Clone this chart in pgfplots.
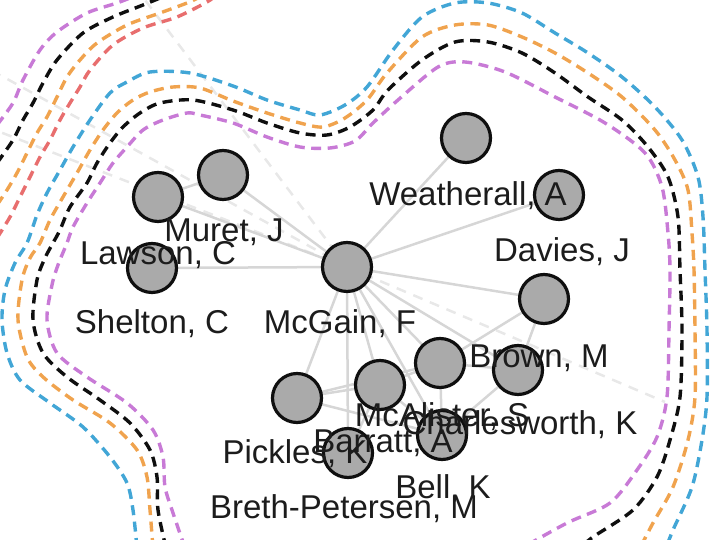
\documentclass[border=0pt]{standalone}
\usepackage{fontspec}
\setmainfont{Liberation Sans}
\usepackage{pgfplots}
\usepackage{pgfplotstable}
\pgfplotsset{compat=1.18}
\definecolor{cpur}{RGB}{200,122,214}
\definecolor{cblk}{RGB}{15,15,15}
\definecolor{cora}{RGB}{240,163,78}
\definecolor{cblu}{RGB}{66,166,214}
\definecolor{cred}{RGB}{232,110,110}
\definecolor{edgeg}{RGB}{214,214,214}
\definecolor{edged}{RGB}{232,232,232}
\definecolor{nodeg}{RGB}{170,170,170}
\definecolor{txt}{RGB}{28,28,28}
\pgfplotstableread{
x y
466 138
559 195
544 299
158 197
223 175
152 268
347 267
440 363
518 370
380 385
297 398
442 435
348 453
}\nodestab
\tikzset{ct/.style={smooth, line width=3.4pt, dash pattern=on 10pt off 6.5pt},
 ed/.style={draw=edgeg, line width=2.5pt},
 edd/.style={draw=edged, line width=2.5pt, dash pattern=on 10pt off 8pt},
 lab/.style={anchor=base, inner sep=0pt, text=txt, font=\fontsize{33}{38}\selectfont}}
\begin{document}
\begin{tikzpicture}
\begin{axis}[width=715pt,height=540pt,scale only axis,xmin=0,xmax=715,ymin=0,ymax=540,
  y dir=reverse,hide axis,clip=true,set layers]
% dashed faint edges
\addplot[edd] coordinates {(347,267) (145,0)};
\addplot[edd] coordinates {(347,267) (665,402)};
\addplot[edd] coordinates {(347,267) (0,75)};
\addplot[edd] coordinates {(347,267) (0,132)};
% solid edges
\addplot[ed] coordinates {(347,267) (466,138)};
\addplot[ed] coordinates {(347,267) (559,195)};
\addplot[ed] coordinates {(347,267) (544,299)};
\addplot[ed] coordinates {(347,267) (152,268)};
\addplot[ed] coordinates {(347,267) (223,175)};
\addplot[ed] coordinates {(347,267) (158,197)};
\addplot[ed] coordinates {(158,197) (223,175)};
\addplot[ed] coordinates {(347,267) (297,398)};
\addplot[ed] coordinates {(347,267) (348,453)};
\addplot[ed] coordinates {(347,267) (380,385)};
\addplot[ed] coordinates {(347,267) (440,363)};
\addplot[ed] coordinates {(347,267) (442,435)};
\addplot[ed] coordinates {(347,267) (518,370)};
\addplot[ed] coordinates {(297,398) (380,385)};
\addplot[ed] coordinates {(297,398) (440,363)};
\addplot[ed] coordinates {(297,398) (442,435)};
\addplot[ed] coordinates {(380,385) (440,363)};
\addplot[ed] coordinates {(440,363) (518,370)};
\addplot[ed] coordinates {(440,363) (544,299)};
\addplot[ed] coordinates {(518,370) (544,299)};
\addplot[ed] coordinates {(380,385) (442,435)};
\addplot[ed] coordinates {(442,435) (518,370)};
\addplot[ed] coordinates {(442,435) (440,363)};
\addplot[ed] coordinates {(348,453) (380,385)};
% main contours
\addplot[ct, draw=cpur] coordinates {(185,548) (173,513) (165,487) (163,457) (153,430) (127,403) (87,377) (57,353) (47,320) (52,285) (58,265) (67,243) (73,227) (87,203) (100,183) (113,163) (127,147) (143,130) (163,120) (187,113) (200,115) (233,123) (267,137) (300,147) (330,148) (355,141) (373,123) (398,100) (438,67) (465,62) (505,72) (555,97) (605,123) (645,153) (662,187) (668,233) (670,270) (669,330) (667,397) (657,437) (637,470) (610,503) (567,523) (522,548)};
\addplot[ct, draw=cblk] coordinates {(166,548) (158,510) (157,477) (150,450) (130,423) (100,400) (67,377) (43,353) (33,320) (37,280) (45,258) (53,243) (60,230) (70,207) (87,183) (97,163) (110,143) (123,127) (140,113) (160,103) (193,100) (233,110) (267,123) (300,133) (327,135) (350,127) (373,110) (388,90) (422,60) (455,42) (488,42) (522,53) (555,73) (588,97) (622,120) (648,147) (668,177) (678,217) (680,270) (682,330) (680,397) (670,440) (657,477) (633,510) (593,537) (580,548)};
\addplot[ct, draw=cora] coordinates {(153,548) (150,510) (147,477) (137,450) (110,423) (73,400) (43,377) (27,357) (18,320) (22,280) (30,258) (40,243) (50,220) (63,197) (77,173) (90,150) (103,130) (117,113) (133,100) (150,92) (173,87) (200,88) (233,101) (267,113) (300,123) (323,127) (345,118) (367,100) (387,73) (422,37) (455,25) (488,25) (522,37) (555,53) (588,73) (622,97) (655,130) (675,160) (688,190) (692,233) (694,270) (695,330) (695,397) (688,440) (673,487) (653,523) (640,548)};
\addplot[ct, draw=cblu] coordinates {(137,548) (133,510) (127,483) (110,457) (83,427) (50,403) (20,380) (7,353) (2,320) (5,290) (15,263) (27,243) (37,215) (47,193) (60,170) (73,147) (90,120) (110,93) (127,82) (150,72) (190,73) (233,86) (267,100) (300,110) (320,115) (345,105) (367,87) (393,50) (422,17) (455,3) (488,3) (522,13) (555,33) (588,53) (622,77) (655,107) (682,140) (698,177) (703,217) (705,270) (707,330) (707,397) (702,440) (692,487) (673,530) (666,548)};
% top-left contours
\addplot[ct, draw=cpur] coordinates {(-3,125) (13,103) (23,80) (40,50) (57,32) (87,13) (117,3) (135,-4)};
\addplot[ct, draw=cblk] coordinates {(-3,163) (13,140) (23,120) (33,103) (43,83) (57,60) (83,33) (113,17) (143,5) (165,-4)};
\addplot[ct, draw=cora] coordinates {(-3,205) (7,190) (17,173) (27,153) (37,133) (47,117) (57,97) (67,77) (80,60) (97,43) (127,25) (160,13) (187,3) (202,-4)};
\addplot[ct, draw=cred] coordinates {(-3,238) (10,217) (20,197) (30,177) (40,157) (50,140) (60,120) (70,103) (80,87) (90,70) (113,45) (143,28) (177,17) (207,2) (215,-4)};
% nodes
\addplot[only marks, mark=*, mark size=24.5pt, mark options={fill=nodeg, draw=cblk, line width=3.2pt}] table[x=x,y=y] {\nodestab};
% labels
\begin{pgfonlayer}{axis foreground}
\node[lab] at (axis cs:468,206) {Weatherall, A};
\node[lab] at (axis cs:562,262) {Davies, J};
\node[lab] at (axis cs:224,242) {Muret, J};
\node[lab] at (axis cs:158,265) {Lawson, C};
\node[lab] at (axis cs:152,334) {Shelton, C};
\node[lab] at (axis cs:340,334) {McGain, F};
\node[lab] at (axis cs:539,368) {Brown, M};
\node[lab] at (axis cs:442,427) {McAlister, S};
\node[lab] at (axis cs:520,435) {Charlesworth, K};
\node[lab] at (axis cs:383,453) {Barratt, A};
\node[lab] at (axis cs:295,464) {Pickles, K};
\node[lab] at (axis cs:443,499) {Bell, K};
\node[lab] at (axis cs:344,519) {Breth-Petersen, M};
\end{pgfonlayer}
\end{axis}
\pgfresetboundingbox
\path (0,0) rectangle (715pt,540pt);
\end{tikzpicture}
\end{document}
